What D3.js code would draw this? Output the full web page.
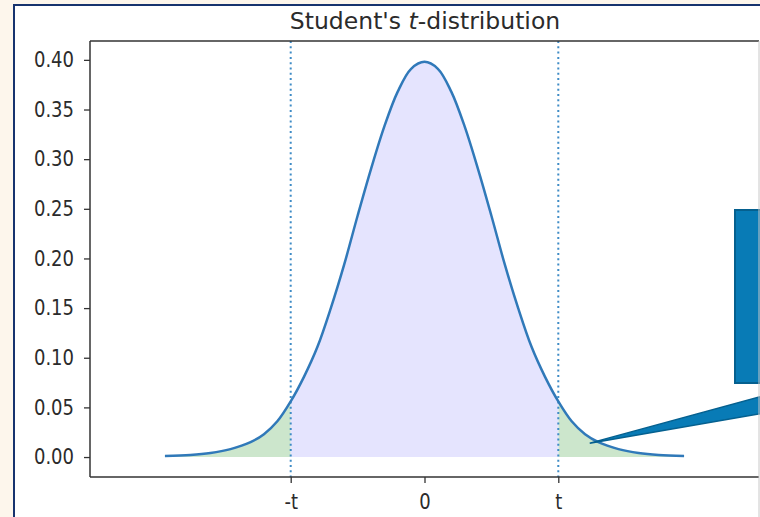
<!DOCTYPE html>
<html>
<head>
<meta charset="utf-8">
<script src="https://cdn.jsdelivr.net/npm/d3@7"></script>
<style>
    body { margin: 0; background: #fdf6ec; overflow: hidden; }
    svg { display: block; }
    text { font-family: "DejaVu Sans", sans-serif; fill: #262626; }
    .tall { transform-box: fill-box; transform-origin: center; transform: scaleY(1.17); }
</style>
</head>
<body>
<span></span>
<script>
let width = 760;
let height = 517;

// density curve
let curveX = [-3.88, -3.5, -3.2, -2.9, -2.6, -2.4, -2.2, -2.0, -1.8, -1.6, -1.4, -1.2, -1.0, -0.8, -0.6, -0.4, -0.2, 0,
              0.2, 0.4, 0.6, 0.8, 1.0, 1.2, 1.4, 1.6, 1.8, 2.0, 2.2, 2.4, 2.6, 2.9, 3.2, 3.5, 3.88];
let curveY = [0.001, 0.002, 0.004, 0.008, 0.015, 0.023, 0.036, 0.056, 0.081, 0.111, 0.150, 0.194, 0.243, 0.290, 0.333, 0.368, 0.391, 0.398,
              0.391, 0.368, 0.333, 0.290, 0.243, 0.194, 0.150, 0.111, 0.081, 0.056, 0.036, 0.023, 0.015, 0.008, 0.004, 0.002, 0.001];
let tValue = 2.0;

let yTicks = [0, 0.05, 0.10, 0.15, 0.20, 0.25, 0.30, 0.35, 0.40];
let xTicks = [-tValue, 0, tValue];
let xTickLabels = ["-t", "0", "t"];

let plotLeft = 90, plotRight = 759, plotTop = 41, plotBottom = 477;

let svg = d3.select("span")
    .append("svg")
    .attr("width", width)
    .attr("height", height);

// slide frame
svg.append("rect")
    .attr("x", 14).attr("y", 5)
    .attr("width", 760).attr("height", 530)
    .style("fill", "white")
    .style("stroke", "#17336e")
    .style("stroke-width", 2);

let x = d3.scaleLinear().domain([-5, 5]).range([plotLeft, plotRight]);
let y = d3.scaleLinear().domain([-0.0201, 0.419]).range([plotBottom, plotTop]);

let points = curveX.map((d, i) => ({ x: d, y: curveY[i] }));

let smooth = d3.curveCatmullRom.alpha(0.5);

let area = d3.area()
    .x(d => x(d.x))
    .y0(y(0))
    .y1(d => y(d.y))
    .curve(smooth);

// tails
svg.append("path")
    .attr("d", area(points.filter(d => d.x <= -tValue)))
    .style("fill", "#cce6cc");
svg.append("path")
    .attr("d", area(points.filter(d => d.x >= tValue)))
    .style("fill", "#cce6cc");
// middle
svg.append("path")
    .attr("d", area(points.filter(d => d.x >= -tValue && d.x <= tValue)))
    .style("fill", "#e5e4fe");

// dotted t lines
xTicks.filter(d => d !== 0).forEach(function (v) {
    svg.append("line")
        .attr("x1", x(v)).attr("x2", x(v))
        .attr("y1", plotTop).attr("y2", plotBottom)
        .style("stroke", "#3f8cc6")
        .style("stroke-width", 2)
        .style("stroke-dasharray", "2,3.3");
});

let line = d3.line()
    .x(d => x(d.x))
    .y(d => y(d.y))
    .curve(smooth);

svg.append("path")
    .attr("d", line(points))
    .style("fill", "none")
    .style("stroke", "#3079b9")
    .style("stroke-width", 2.5);

// axes
let yAxis = d3.axisLeft(y)
    .tickValues(yTicks)
    .tickFormat(d3.format(".2f"))
    .tickSize(6)
    .tickPadding(10);
let xAxis = d3.axisBottom(x)
    .tickValues(xTicks)
    .tickFormat((d, i) => xTickLabels[i])
    .tickSize(6)
    .tickPadding(12);

let gy = svg.append("g").attr("transform", `translate(${plotLeft},0)`).call(yAxis);
let gx = svg.append("g").attr("transform", `translate(0,${plotBottom})`).call(xAxis);
[gx, gy].forEach(function (g) {
    g.select(".domain").remove();
    g.selectAll("line").style("stroke", "#333").style("stroke-width", 1.3);
    g.selectAll("text")
        .attr("class", "tall")
        .style("font-size", "18px").style("fill", "#2b2b2b")
        .style("font-family", "'DejaVu Sans', sans-serif");
});

// spines
let spine = (x1, y1, x2, y2, c) => svg.append("line")
    .attr("x1", x1).attr("y1", y1).attr("x2", x2).attr("y2", y2)
    .style("stroke", c).style("stroke-width", 1.5);
spine(plotLeft, plotTop, plotLeft, plotBottom, "#333");
spine(plotLeft, plotBottom, plotRight, plotBottom, "#333");
spine(plotLeft, plotTop, plotRight, plotTop, "#333");

// title
let title = svg.append("text")
    .attr("x", (plotLeft + plotRight) / 2 + 0.5)
    .attr("y", 29)
    .attr("text-anchor", "middle")
    .style("font-size", "23.5px")
    .style("fill", "#2b2b2b");
title.append("tspan").text("Student's ");
title.append("tspan").style("font-style", "italic").text("t");
title.append("tspan").text("-distribution");

// callout
let tipX = x(2.47), tipY = y(0.014);
svg.append("path")
    .attr("d", `M${tipX},${tipY} L770,394 L770,412 Z`)
    .style("fill", "#087bb6")
    .style("stroke", "#05608f")
    .style("stroke-width", 1.5);
svg.append("rect")
    .attr("x", 735).attr("y", 210)
    .attr("width", 40).attr("height", 173)
    .style("fill", "#087bb6")
    .style("stroke", "#05608f")
    .style("stroke-width", 2);
svg.append("line")
    .attr("x1", 759).attr("x2", 759)
    .attr("y1", plotTop).attr("y2", height)
    .style("stroke", "#c8c8c8")
    .style("stroke-width", 1);
</script>
</body>
</html>
